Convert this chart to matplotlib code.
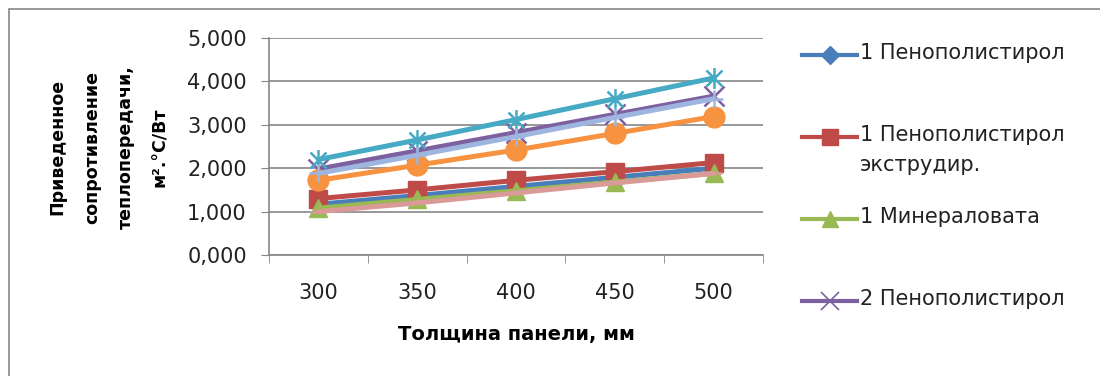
import matplotlib.pyplot as plt
from matplotlib.lines import Line2D
from matplotlib.patches import Rectangle
from matplotlib.path import Path

plt.rcParams['font.family'] = ['DejaVu Sans']

thickness = ["300", "350", "400", "450", "500"]

series_names = [
    "1 Пенополистирол",
    "1 Пенополистирол\nэкструдир.",
    "1 Минераловата",
    "2 Пенополистирол",
    "2 Пенополистирол экструдир.",
    "2 Минераловата",
    "3 Пенополистирол",
    "3 Минераловата",
]

penopol_1 = [1.17, 1.37, 1.58, 1.79, 2.00]
penopol_extr_1 = [1.30, 1.50, 1.72, 1.92, 2.13]
minvata_1 = [1.08, 1.28, 1.48, 1.68, 1.88]
penopol_2 = [1.98, 2.40, 2.82, 3.24, 3.66]
penopol_extr_2 = [2.20, 2.65, 3.12, 3.60, 4.08]
minvata_2 = [1.72, 2.07, 2.42, 2.80, 3.19]
penopol_3 = [1.88, 2.30, 2.73, 3.17, 3.60]
minvata_3 = [1.00, 1.20, 1.43, 1.66, 1.88]

values = [penopol_1, penopol_extr_1, minvata_1, penopol_2,
          penopol_extr_2, minvata_2, penopol_3, minvata_3]

# excel-like asterisk: an "x" with a vertical bar through it
asterisk = Path([(-1, -1), (1, 1), (-1, 1), (1, -1), (0, -1.3), (0, 1.3)],
                [Path.MOVETO, Path.LINETO, Path.MOVETO, Path.LINETO,
                 Path.MOVETO, Path.LINETO])

colors = ["#4A7EBB", "#BE4B48", "#98B954", "#7D60A0",
          "#46AAC5", "#F69240", "#9DB5DF", "#DA9A98"]
markers = ["D", "s", "^", "x", asterisk, "o", "+", "_"]
msizes = [9, 13, 13, 14, 15, 15, 13, 12]
line_marker = [False, False, False, True, True, False, True, True]

fig = plt.figure(figsize=(11, 3.76), dpi=100)
ax = fig.add_axes([269 / 1100, 1 - 255 / 376, 494 / 1100, 217 / 376])

# chart border (cut off on the right and bottom)
fig.patches.append(Rectangle((9 / 1100, -0.1), 1.2, 1.1 - 9 / 376,
                             transform=fig.transFigure, fill=False,
                             edgecolor="#868686", lw=1.2))

x = list(range(len(thickness)))
for i, vals in enumerate(values):
    ax.plot(x, vals, color=colors[i], lw=3.6, marker=markers[i], ms=msizes[i],
            mew=1.8 if line_marker[i] else 1,
            mec=colors[i], mfc=colors[i], zorder=3 + i, solid_capstyle="round")

ax.set_xlim(-0.5, 4.5)
ax.set_ylim(0, 5)
ax.set_yticks([0, 1, 2, 3, 4, 5])
ax.set_yticklabels(["0,000", "1,000", "2,000", "3,000", "4,000", "5,000"])
ax.set_xticks(x)
ax.set_xticklabels(thickness)
ax.set_xticks([-0.5, 0.5, 1.5, 2.5, 3.5, 4.5], minor=True)
ax.tick_params(axis="x", which="major", length=0, pad=20, labelsize=15, colors="#222222")
ax.tick_params(axis="x", which="minor", length=6, color="#868686")
ax.tick_params(axis="y", length=6, color="#868686", labelsize=15, pad=10, labelcolor="#222222")
ax.grid(axis="y", color="#868686", lw=1.2)
ax.set_axisbelow(True)
for side in ["top", "right"]:
    ax.spines[side].set_visible(False)
for side in ["left", "bottom"]:
    ax.spines[side].set_color("#868686")
    ax.spines[side].set_linewidth(1.2)

ax.set_xlabel("Толщина панели, мм", fontsize=14, fontweight="bold", labelpad=16)
fig.text(109 / 1100, 1 - 147 / 376,
         "Приведенное\nсопротивление\nтеплопередачи,\nм².°С/Вт",
         rotation=90, ha="center", va="center", fontsize=12.5,
         fontweight="bold", linespacing=2.15)

# legend (only the first four entries fit in the picture)
for i in range(4):
    yc = 1 - (55 + 82 * i) / 376
    fig.add_artist(Line2D([802 / 1100, 857 / 1100], [yc, yc], transform=fig.transFigure,
                          color=colors[i], lw=3))
    fig.add_artist(Line2D([829.5 / 1100], [yc], transform=fig.transFigure,
                          color=colors[i], marker=markers[i], ls="none",
                          ms=[9, 11, 11, 13][i], mew=1.2 if line_marker[i] else 1))
    fig.text(860 / 1100, yc + 12 / 376, series_names[i], ha="left", va="top",
             fontsize=15, color="#222222", linespacing=1.65)

fig.savefig("out.png", dpi=100)
